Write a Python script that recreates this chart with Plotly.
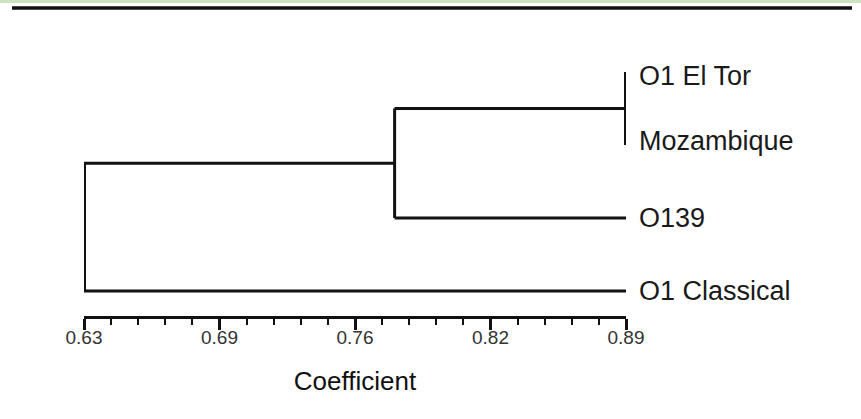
import plotly.graph_objects as go

# ---- data ----
leaf_names = ["O1 Classical", "O139", "Mozambique", "O1 El Tor"]
leaf_pos = [0, 1, 2, 3]
merge_coef = [0.89, 0.779, 0.63]          # El Tor+Mozambique, +O139, +O1 Classical
tick_vals = [0.63, 0.695, 0.76, 0.825, 0.89]
tick_text = ["0.63", "0.69", "0.76", "0.82", "0.89"]
x_min, x_max = 0.63, 0.89
leaf_coef = 0.89

# ---- build dendrogram segments ----
xs, ys = [], []
def seg(x0, y0, x1, y1):
    xs.extend([x0, x1, None]); ys.extend([y0, y1, None])

c1_y = (leaf_pos[2] + leaf_pos[3]) / 2
c2_y = (leaf_pos[1] + c1_y) / 2
seg(merge_coef[1], c1_y, merge_coef[0], c1_y)
seg(merge_coef[1], leaf_pos[1], leaf_coef, leaf_pos[1])
seg(merge_coef[1], leaf_pos[1], merge_coef[1], c1_y)
seg(merge_coef[2], c2_y, merge_coef[1], c2_y)
seg(merge_coef[2], leaf_pos[0], leaf_coef, leaf_pos[0])

fig = go.Figure()
fig.add_trace(go.Scatter(x=xs, y=ys, mode="lines",
                         line=dict(color="#111111", width=3),
                         hoverinfo="skip", showlegend=False))
fig.add_trace(go.Scatter(x=[merge_coef[0], merge_coef[0], None, merge_coef[2], merge_coef[2]],
                         y=[leaf_pos[2], leaf_pos[3], None, leaf_pos[0], c2_y],
                         mode="lines", line=dict(color="#111111", width=4),
                         hoverinfo="skip", showlegend=False))

label_yshift = {"O1 El Tor": -4, "Mozambique": 4}
for name, p in zip(leaf_names, leaf_pos):
    fig.add_annotation(x=leaf_coef, y=p, text=name, showarrow=False,
                       xanchor="left", yanchor="middle", xshift=11,
                       yshift=label_yshift.get(name, 0),
                       font=dict(family="Liberation Sans, Arial", size=27, color="#1a1a1a"))

# decorations: green strip and top border line
fig.add_shape(type="rect", xref="paper", yref="paper",
              x0=-0.16, x1=1.45, y0=(316 - 0) / 276, y1=(316 - 3) / 276,
              line=dict(width=0), fillcolor="#cde3c0", layer="below")
fig.add_shape(type="line", xref="paper", yref="paper",
              x0=(12 - 84) / 542, x1=(852 - 84) / 542,
              y0=(316 - 8) / 276, y1=(316 - 8) / 276,
              line=dict(color="#111111", width=3.5))

fig.update_layout(
    width=861, height=419,
    margin=dict(l=84, r=235, t=40, b=103),
    paper_bgcolor="white", plot_bgcolor="white",
    showlegend=False,
    xaxis=dict(range=[x_min, x_max], showgrid=False, zeroline=False,
               showline=True, linecolor="#111111", linewidth=3,
               ticks="outside", ticklen=11, tickwidth=3, tickcolor="#111111",
               tickvals=tick_vals, ticktext=tick_text, ticklabelstandoff=-9,
               tickfont=dict(family="Liberation Sans, Arial", size=19, color="#333333"),
               minor=dict(dtick=0.013, tick0=0.63, ticks="outside", ticklen=6,
                          tickwidth=2, tickcolor="#111111", showgrid=False),
               title=dict(text="Coefficient", standoff=26,
                          font=dict(family="Liberation Sans, Arial", size=26, color="#111111")),
               fixedrange=True),
    yaxis=dict(range=[-0.3425, 3.438], visible=False, fixedrange=True),
)

fig.write_html("out.html", config={"displayModeBar": False},
               post_script="document.body.style.margin='0';document.body.style.overflow='hidden';")
